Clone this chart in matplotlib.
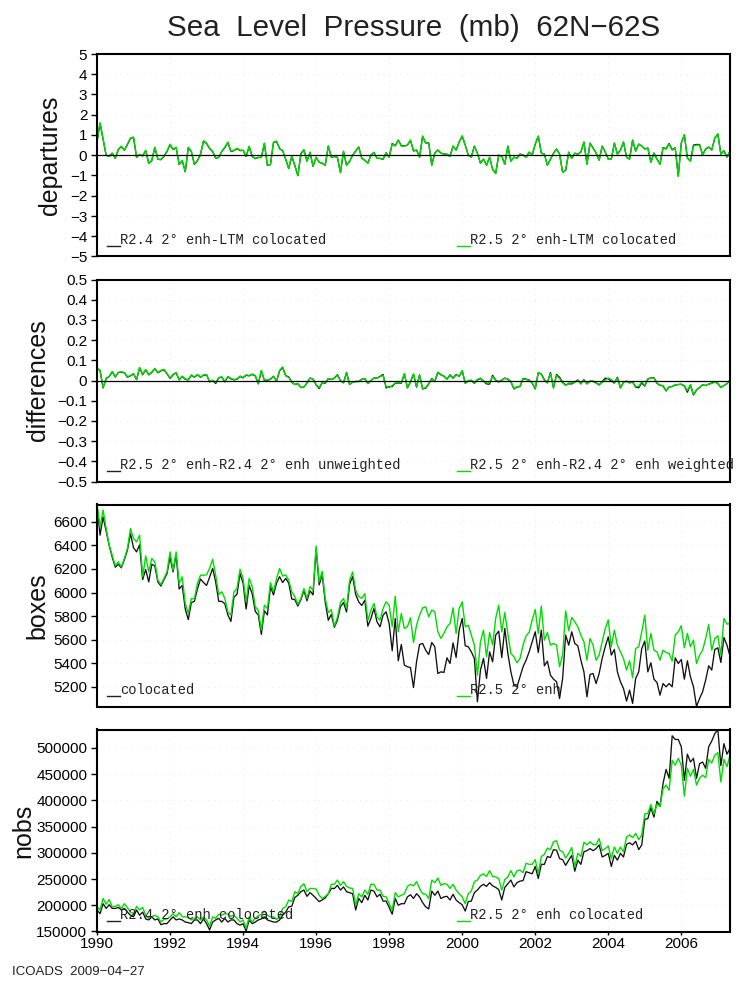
import matplotlib
matplotlib.use('Agg')
import matplotlib.pyplot as plt
import numpy as np

green = '#00dc00'
W, H = 745, 988

dep_r25 = [0.7,1.6,0.8,0.0,-0.05,0.1,-0.15,0.3,0.45,0.25,0.55,0.85,0.9,-0.1,0.05,-0.03,0.25,-0.4,-0.25,0.4,
    -0.2,-0.2,-0.05,0.2,0.55,0.3,0.4,-0.45,-0.25,-0.8,0.4,0.2,-0.45,-0.25,0.05,0.72,0.6,0.35,0.2,-0.15,
    -0.1,0.2,0.4,0.65,0.2,0.25,0.35,0.25,0.25,-0.05,0.45,-0.05,-0.15,-0.1,-0.1,0.6,-0.5,-0.45,0.65,0.7,
    0.3,0.25,-0.2,-0.65,-0.05,-0.5,-1.0,0.05,0.25,-0.3,0.15,-0.55,-0.1,-0.35,-0.4,-0.5,0.45,-0.1,-0.05,-0.1,
    -0.85,0.2,-0.5,-0.3,0.0,0.2,0.4,-0.15,-0.25,-0.4,0.0,0.15,-0.15,-0.15,-0.2,0.1,-0.1,0.55,0.45,0.75,
    0.45,0.45,0.5,0.75,0.2,0.25,-0.1,0.95,0.6,0.6,-0.5,0.1,0.25,0.1,0.05,0.05,-0.05,0.45,0.25,0.65,
    0.95,0.5,0.0,-0.1,0.45,0.1,-0.4,-0.2,-0.5,-0.1,-0.7,-0.9,0.0,-0.05,-0.45,0.45,-0.3,-0.1,-0.15,0.05,
    0.0,-0.1,0.15,0.0,0.55,0.95,0.1,0.05,-0.5,-0.2,0.1,0.3,0.05,-0.85,-0.75,0.15,-0.15,0.1,0.05,0.15,
    0.65,-0.45,0.6,0.35,0.1,-0.25,0.45,0.15,-0.2,-0.2,0.6,0.05,0.25,0.65,-0.1,-0.2,0.75,0.2,0.55,0.45,
    0.3,0.35,-0.35,0.1,-0.2,-0.45,0.35,0.3,0.55,0.25,0.35,-1.05,0.6,1.0,-0.15,-0.3,0.45,0.5,0.5,0.0,
    0.3,0.4,0.25,0.85,1.05,0.05,0.2,-0.1,0.2]
dep_r24 = [0.68,1.58,0.78,0.0,-0.05,0.1,-0.16,0.28,0.43,0.25,0.53,0.83,0.88,-0.1,0.04,-0.03,0.23,-0.4,-0.27,0.38,
    -0.2,-0.22,-0.06,0.18,0.53,0.28,0.38,-0.46,-0.27,-0.82,0.38,0.18,-0.46,-0.27,0.03,0.7,0.58,0.33,0.18,-0.15,
    -0.11,0.18,0.38,0.63,0.18,0.23,0.33,0.23,0.24,-0.06,0.43,-0.06,-0.17,-0.11,-0.11,0.58,-0.51,-0.46,0.63,0.68,
    0.33,0.22,-0.2,-0.66,-0.05,-0.5,-1.01,0.08,0.27,-0.29,0.14,-0.55,-0.1,-0.34,-0.39,-0.5,0.46,-0.1,-0.06,-0.11,
    -0.86,0.19,-0.5,-0.3,0.01,0.21,0.41,-0.15,-0.25,-0.39,0.0,0.14,-0.15,-0.16,-0.2,0.12,-0.09,0.58,0.47,0.75,
    0.47,0.46,0.5,0.74,0.22,0.26,-0.09,0.94,0.6,0.61,-0.49,0.11,0.26,0.11,0.06,0.05,-0.05,0.45,0.26,0.65,
    0.95,0.5,0.01,-0.09,0.45,0.1,-0.39,-0.19,-0.49,-0.1,-0.7,-0.9,0.0,-0.05,-0.44,0.45,-0.29,-0.09,-0.15,0.06,
    0.01,-0.09,0.15,0.01,0.55,0.94,0.11,0.06,-0.49,-0.2,0.1,0.31,0.06,-0.84,-0.74,0.15,-0.15,0.1,0.06,0.16,
    0.65,-0.44,0.6,0.36,0.11,-0.24,0.45,0.16,-0.19,-0.19,0.6,0.06,0.26,0.65,-0.09,-0.19,0.75,0.21,0.55,0.46,
    0.31,0.36,-0.34,0.11,-0.19,-0.44,0.37,0.33,0.58,0.27,0.37,-1.03,0.61,1.01,-0.13,-0.28,0.5,0.53,0.53,0.02,
    0.31,0.41,0.26,0.85,1.05,0.06,0.22,-0.09,0.2]

diff_weighted = [0.06,0.05,-0.035,0.01,0.02,0.045,0.018,0.04,0.043,0.04,0.018,0.025,0.035,0.005,0.065,0.03,0.055,0.03,0.042,0.06,
    0.04,0.05,0.055,0.035,0.012,0.03,0.04,0.005,0.022,0.008,0.005,0.028,0.018,0.03,0.018,0.028,0.03,-0.005,0.002,-0.01,
    0.015,0.018,-0.005,0.02,0.01,0.005,0.008,0.022,0.015,0.028,0.025,0.032,0.025,-0.015,0.05,0.002,0.003,0.008,0.02,-0.002,
    0.05,0.068,0.022,0.015,-0.01,-0.02,-0.015,-0.035,-0.032,-0.012,0.012,0.008,-0.02,-0.035,-0.008,-0.012,0.01,0.006,0.01,0.026,
    -0.002,-0.01,0.038,-0.02,-0.008,-0.005,-0.005,0.006,0.01,-0.015,0.0,0.012,0.012,0.018,0.025,-0.03,-0.035,-0.025,-0.012,-0.01,
    -0.012,0.035,-0.035,-0.005,0.033,-0.03,0.025,-0.04,-0.035,-0.015,0.008,-0.005,0.042,0.03,0.02,0.005,0.025,0.01,0.028,0.02,
    0.05,-0.012,0.0,0.002,-0.012,0.005,0.012,-0.002,-0.012,-0.012,0.02,0.0,-0.008,0.0,0.01,0.008,-0.005,-0.04,-0.03,-0.028,
    0.008,0.005,0.0,-0.01,-0.04,0.04,0.03,0.0,-0.012,0.035,-0.035,0.025,0.01,-0.012,-0.025,-0.012,-0.012,-0.01,0.0,-0.015,
    0.0,-0.015,-0.005,-0.002,-0.01,-0.02,-0.01,0.002,0.012,0.005,-0.01,0.012,-0.035,-0.01,-0.005,-0.01,-0.005,-0.03,-0.03,-0.005,
    -0.025,0.01,0.012,0.012,-0.012,-0.022,-0.025,-0.05,-0.03,-0.03,-0.022,-0.02,-0.018,-0.025,-0.05,-0.02,-0.07,-0.045,-0.035,-0.02,
    -0.025,-0.018,-0.015,-0.008,-0.015,-0.035,-0.025,-0.015,0.0]
diff_unweighted = [0.06,0.05,-0.037,0.01,0.02,0.043,0.017,0.04,0.041,0.038,0.016,0.023,0.033,0.004,0.063,0.028,0.053,0.028,0.04,0.058,
    0.038,0.048,0.053,0.033,0.01,0.028,0.038,0.003,0.02,0.006,0.003,0.026,0.016,0.028,0.016,0.026,0.028,-0.007,0.0,-0.015,
    0.013,0.016,-0.007,0.018,0.008,0.003,0.006,0.02,0.013,0.026,0.023,0.03,0.023,-0.017,0.048,0.0,0.001,0.006,0.021,-0.004,
    0.048,0.064,0.024,0.018,-0.008,-0.02,-0.015,-0.035,-0.032,-0.012,0.012,0.006,-0.022,-0.04,-0.01,-0.014,0.009,0.005,0.012,0.029,
    -0.001,-0.012,0.04,-0.02,-0.008,-0.005,-0.005,0.006,0.01,-0.015,0.0,0.012,0.012,0.02,0.03,-0.037,-0.03,-0.03,-0.014,-0.012,
    -0.014,0.033,-0.037,-0.007,0.031,-0.033,0.028,-0.042,-0.038,-0.017,0.01,-0.005,0.04,0.028,0.022,0.007,0.028,0.012,0.03,0.02,
    0.048,-0.014,-0.002,0.0,-0.014,0.003,0.01,-0.004,-0.017,-0.018,0.026,0.002,-0.006,0.002,0.012,0.006,-0.007,-0.042,-0.033,-0.03,
    0.01,0.007,0.002,-0.012,-0.042,0.038,0.032,0.004,-0.012,0.04,-0.037,0.03,0.016,-0.009,-0.022,-0.016,-0.017,-0.008,0.003,-0.017,
    0.004,-0.017,-0.003,-0.005,-0.012,-0.022,-0.006,0.012,0.008,-0.002,-0.013,0.016,-0.037,-0.008,-0.003,-0.012,-0.008,-0.033,-0.036,-0.012,
    -0.028,0.007,0.012,0.014,-0.014,-0.024,-0.027,-0.052,-0.032,-0.03,-0.022,-0.02,-0.019,-0.027,-0.058,-0.022,-0.072,-0.047,-0.035,-0.021,
    -0.025,-0.018,-0.012,-0.005,-0.015,-0.035,-0.025,-0.015,0.0]

boxes_enh = [6745,6558,6700,6543,6402,6317,6227,6260,6218,6289,6374,6543,6458,6430,6487,6133,6311,6176,6289,6260,
    6105,6068,6120,6176,6345,6190,6345,6077,6133,5907,5822,5950,5945,6077,6147,6147,6150,6205,6283,6147,
    5983,6006,5950,5836,5808,6006,6034,6198,6120,5921,6120,6050,5880,5850,5680,5893,5865,6085,6006,6120,
    6204,6140,6150,6105,6006,5965,5900,5950,6034,5950,6050,6020,6396,6090,6180,5950,5830,5855,5715,5790,
    5915,5950,5865,6105,6175,6020,5965,5950,5990,5765,5850,
    5907,5794,5766,5865,5921,5893,5709,5969,5667,5822,5695,5709,5786,5576,5723,5808,5870,5879,5794,5851,
    5836,5667,5610,5653,5709,5737,5870,5653,5865,5921,5709,5723,5639,5554,5299,5582,5681,5455,5661,5554,
    5780,5893,5667,5831,5653,5483,5455,5404,5441,5554,5633,5661,5766,5856,5653,5885,5596,5661,5554,5568,
    5554,5370,5469,5845,5675,5788,5752,5709,5639,5582,5426,5610,5554,5426,5469,5582,5695,5766,5540,5681,
    5554,5497,5441,5342,5421,5277,5525,5540,5667,5808,5511,5653,5511,5497,5426,5511,5491,5483,5418,5639,
    5667,5718,5531,5653,5540,5596,5398,5469,5511,5610,5729,5511,5610,5633,5469,5780,5732,5737]
boxes_colocated = [6745,6487,6642,6520,6400,6300,6215,6240,6210,6280,6360,6500,6380,6345,6405,6110,6195,6090,6240,6225,
    6090,6055,6110,6160,6300,6175,6320,6030,6060,5860,5770,5915,5925,6030,6115,6085,6060,6130,6205,6090,
    5925,5925,5905,5810,5755,5960,5985,6160,6080,5860,6060,5990,5840,5810,5645,5845,5810,6050,5980,6080,
    6135,6085,6120,6080,5945,5940,5885,5940,6015,5930,6015,5980,6370,6065,6150,5920,5765,5815,5705,5765,
    5880,5915,5835,6070,6135,5985,5920,5890,5935,5715,5780,
    5865,5752,5709,5808,5836,5737,5506,5780,5421,5559,5384,5370,5364,5194,5412,5559,5568,5511,5474,5576,
    5540,5313,5327,5322,5446,5398,5573,5449,5681,5780,5548,5540,5497,5441,5073,5342,5441,5271,5497,5412,
    5639,5672,5449,5695,5483,5327,5214,5200,5285,5370,5426,5497,5582,5667,5491,5681,5378,5418,5299,5265,
    5243,5101,5271,5639,5554,5667,5568,5548,5426,5327,5115,5305,5313,5228,5313,5441,5540,5624,5469,5517,
    5327,5243,5186,5079,5172,5059,5271,5327,5525,5588,5327,5404,5265,5237,5129,5228,5200,5228,5200,5446,
    5398,5432,5265,5421,5285,5200,5033,5101,5158,5257,5378,5342,5517,5531,5407,5619,5554,5460]

nobs_enh = [197,191,213,202,211,197,198,201,194,203,195,187,184,198,191,196,181,175,178,181,
    178,168,173,174,178,184,178,186,178,178,177,172,175,178,172,178,172,160,178,175,
    183,181,184,183,179,181,175,168,172,156,178,168,175,180,183,189,181,178,178,173,
    178,194,197,210,207,226,222,236,241,226,232,232,231,219,213,217,222,240,240,248,
    238,245,236,233,232,200,222,216,229,221,240,
    240,229,229,217,216,203,191,224,216,219,222,236,240,237,245,232,222,221,213,248,
    243,252,238,241,240,232,240,229,222,216,203,222,227,245,248,257,260,255,266,255,
    254,251,229,249,254,266,254,266,267,262,280,278,278,287,260,293,297,309,306,321,
    323,305,302,290,299,310,273,299,293,320,315,321,316,315,327,304,308,313,289,311,
    299,311,302,330,334,329,337,325,334,374,375,392,374,393,388,422,429,419,476,467,
    480,467,408,461,446,459,429,442,448,443,478,471,486,491,435,478,464,486]
nobs_colocated = [191,184,203,194,201,194,194,196,191,194,187,181,178,191,181,187,174,172,178,172,
    174,163,165,165,172,178,172,174,172,168,167,165,172,172,165,174,165,153,168,172,
    175,168,175,168,172,172,165,162,165,151,172,165,168,172,174,178,172,170,168,168,
    172,181,187,197,198,215,219,226,229,217,224,219,213,207,210,214,222,232,232,238,
    229,235,226,224,222,191,213,205,219,210,229,
    227,216,221,208,208,196,183,213,200,203,203,216,220,213,222,216,205,197,193,227,
    219,227,213,216,217,210,221,210,205,201,189,207,208,224,229,236,240,236,243,237,
    234,230,210,234,241,248,235,243,246,247,264,262,260,274,251,278,278,293,291,306,
    305,289,287,276,286,295,265,286,278,302,304,308,304,308,315,292,295,299,274,295,
    286,299,292,316,319,315,322,306,315,364,365,386,368,398,389,432,459,442,523,516,
    516,502,438,488,473,480,442,470,473,461,502,513,527,535,466,508,488,499]

dep_ticks = [-5,-4,-3,-2,-1,0,1,2,3,4,5]
diff_ticks = [-0.5,-0.4,-0.3,-0.2,-0.1,0,0.1,0.2,0.3,0.4,0.5]
diff_labels = ['\u22120.5','\u22120.4','\u22120.3','\u22120.2','\u22120.1','0','0.1','0.2','0.3','0.4','0.5']
box_ticks = [5200,5400,5600,5800,6000,6200,6400,6600]
nobs_ticks = [150,200,250,300,350,400,450,500]
nobs_labels = ['150000','200000','250000','300000','350000','400000','450000','500000']
year_ticks = [1990,1992,1994,1996,1998,2000,2002,2004,2006]
x_end = 1990 + 208/12


def make_axes(top, bottom):
    ax = fig.add_axes([97/W, 1 - bottom/H, (730-97)/W, (bottom-top)/H])
    for s in ax.spines.values():
        s.set_linewidth(1.5)
    ax.set_xlim(1990, x_end)
    ax.set_xticks(year_ticks)
    ax.set_xticklabels([])
    ax.tick_params(axis='x', length=0)
    ax.tick_params(axis='y', length=4, width=1, pad=3)
    ax.grid(True, color='#e2e2e2', linewidth=0.6, linestyle=(0, (1, 6)))
    ax.set_axisbelow(True)
    return ax


def plot_pair(ax, black, other):
    ax.plot(1990 + np.arange(len(black))/12, black, color='#111111', lw=0.95)
    ax.plot(1990 + np.arange(len(other))/12, other, color=green, lw=1.0)


def ylabel(text, x, top, bottom):
    fig.text(x/W, 1 - (top+bottom)/2/H, text, rotation=90, ha='center', va='center',
             fontsize=18, color='#111111')


def key(y, left_text, right_text):
    # sample line and text sit on top of the data, in figure pixels
    for x0, c, t in [(107, '#222222', left_text), (457, '#00e000', right_text)]:
        fig.add_artist(plt.Line2D([x0/W, (x0+13)/W], [1-y/H, 1-y/H], color=c, lw=1.0))
        fig.text((x0+13.5)/W, 1-(y-6)/H, t, family='Liberation Mono', fontsize=9.9,
                 ha='left', va='center', color='#222222')


plt.rcParams['font.family'] = ['Liberation Sans', 'DejaVu Sans']
fig = plt.figure(figsize=(W/100, H/100), dpi=100)

ax1 = make_axes(54, 256.5)
plot_pair(ax1, dep_r24, dep_r25)
ax1.axhline(0, color='black', lw=0.9)
ax1.set_ylim(-5, 5)
ax1.set_yticks(dep_ticks)
ax1.set_yticklabels([str(t).replace('-', '\u2212') for t in dep_ticks], fontsize=11)
ylabel('departures', 50, 54, 256.5)
key(246, 'R2.4 2\u00b0 enh-LTM colocated', 'R2.5 2\u00b0 enh-LTM colocated')

ax2 = make_axes(279.5, 481.5)
plot_pair(ax2, diff_unweighted, diff_weighted)
ax2.axhline(0, color='black', lw=0.9)
ax2.set_ylim(-0.5, 0.5)
ax2.set_yticks(diff_ticks)
ax2.set_yticklabels(diff_labels, fontsize=11)
ylabel('differences', 38, 279.5, 481.5)
key(471, 'R2.5 2\u00b0 enh-R2.4 2\u00b0 enh unweighted', 'R2.5 2\u00b0 enh-R2.4 2\u00b0 enh weighted')

ax3 = make_axes(504.5, 706.5)
plot_pair(ax3, boxes_colocated, boxes_enh)
ax3.set_ylim(5033, 6747)
ax3.set_yticks(box_ticks)
ax3.set_yticklabels([str(t) for t in box_ticks], fontsize=11)
ylabel('boxes', 37, 504.5, 706.5)
key(696, 'colocated', 'R2.5 2\u00b0 enh')

ax4 = make_axes(729.5, 931.5)
plot_pair(ax4, np.array(nobs_colocated)*1000, np.array(nobs_enh)*1000)
ax4.set_ylim(150000, 535000)
ax4.set_yticks(np.array(nobs_ticks)*1000)
ax4.set_yticklabels(nobs_labels, fontsize=11)
ax4.set_xticks(year_ticks)
ax4.set_xticklabels([str(y) for y in year_ticks], fontsize=11)
ax4.tick_params(axis='x', length=2, width=1, pad=2)
ylabel('nobs', 23, 729.5, 931.5)
key(921, 'R2.4 2\u00b0 enh colocated', 'R2.5 2\u00b0 enh colocated')

fig.text(413.5/W, 1-28/H, 'Sea  Level  Pressure  (mb)  62N\u221262S', fontsize=21.3,
         ha='center', va='center', color='#222222')
fig.text(12/W, 1-972/H, 'ICOADS  2009\u221204\u221227', fontsize=9.5,
         ha='left', va='center', color='#222222')

fig.savefig('out.png', dpi=100)
